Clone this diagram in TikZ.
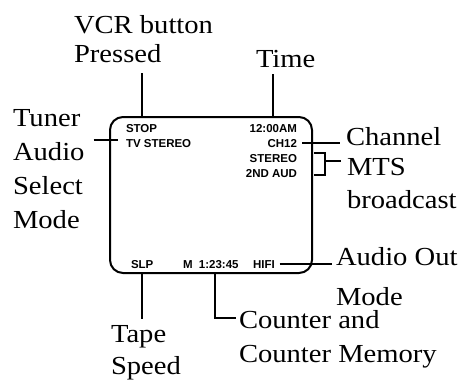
\documentclass[tikz,border=0pt]{standalone}
\usepackage{fontspec}
\newfontfamily\lblfont{Liberation Serif}[FakeStretch=1.1]
\newfontfamily\scrfont{Liberation Sans}
\usetikzlibrary{calc,positioning}

\begin{document}
\begin{tikzpicture}[
  x=1pt, y=-1pt,
  line width=2pt,
  lbl/.style={font=\lblfont\fontsize{26}{#1}\selectfont,align=left,inner sep=0pt,anchor=base west},
  lbl/.default=34,
  osd/.style={font=\scrfont\bfseries\fontsize{11.5}{13}\selectfont,inner sep=0pt}
]%
  \useasboundingbox (0,0) rectangle (462,380);

  % the screen
  \node[draw,rounded corners=13pt,minimum width=202pt,minimum height=156pt,inner sep=0pt] (screen) at (211,195) {};

  \node[osd,anchor=base west] (stop)   at (125,132) {STOP};
  \node[osd,anchor=base west] (tvst)   at (125,147) {TV STEREO};
  \node[osd,anchor=base east] (clock)  at (298,132) {12:00AM};
  \node[osd,anchor=base east] (ch)     at (298,147) {CH12};
  \node[osd,anchor=base east] (stereo) at (298,162) {STEREO};
  \node[osd,anchor=base east] (aud)    at (298,177) {2ND AUD};
  \node[osd,anchor=base west] (slp)    at (130,268) {SLP};
  \node[osd,anchor=base west] (ctr)    at (182,268) {M\ \ 1:23:45};
  \node[osd,anchor=base west] (hifi)   at (252,268) {HIFI};

  % labels (base = last line)
  \node[lbl=29] (vcr)     at (73,62)   {VCR button\\Pressed};
  \node[lbl]    (time)    at (255,67)  {Time};
  \node[lbl]    (tuner)   at (12,228)  {Tuner\\Audio\\Select\\Mode};
  \node[lbl]    (channel) at (345,145) {Channel};
  \node[lbl=33] (mts)     at (346,208) {MTS\\broadcast};
  \node[lbl=40] (audio)   at (335,305) {Audio Out\\Mode};
  \node[lbl=32] (tape)    at (110,374) {Tape\\Speed};
  \node[lbl]    (counter) at (238,362) {Counter and\\Counter Memory};

  \draw ([yshift=-10pt]vcr.south -| stop) -- (stop |- screen.north);
  \draw ([yshift=-6pt]time.south -| clock) -- (clock |- screen.north);
  \draw ([xshift=8pt,yshift=3pt]tuner.east |- tvst.west) -- ([xshift=-7pt,yshift=3pt]tvst.west);
  \draw ([xshift=4pt]ch.east) -- ([xshift=-5pt]ch.east -| channel.west);
  \draw ([xshift=16pt]stereo.north east) -| ([xshift=27pt,yshift=3pt]aud.south east) -- ([xshift=16pt,yshift=3pt]aud.south east);
  \draw ([xshift=27pt,yshift=2pt]stereo.south east) -- ([xshift=-5pt,yshift=2pt]stereo.south -| mts.west);
  \draw ([xshift=4pt]hifi.east) -- ([xshift=-3pt]hifi.east -| audio.west);
  \draw (slp |- screen.south) -- ([yshift=5pt]slp |- tape.north);
  \draw ([xshift=4pt]ctr.south |- screen.south) |- ([xshift=-2pt,yshift=-9pt]counter.north west);
\end{tikzpicture}
\end{document}
